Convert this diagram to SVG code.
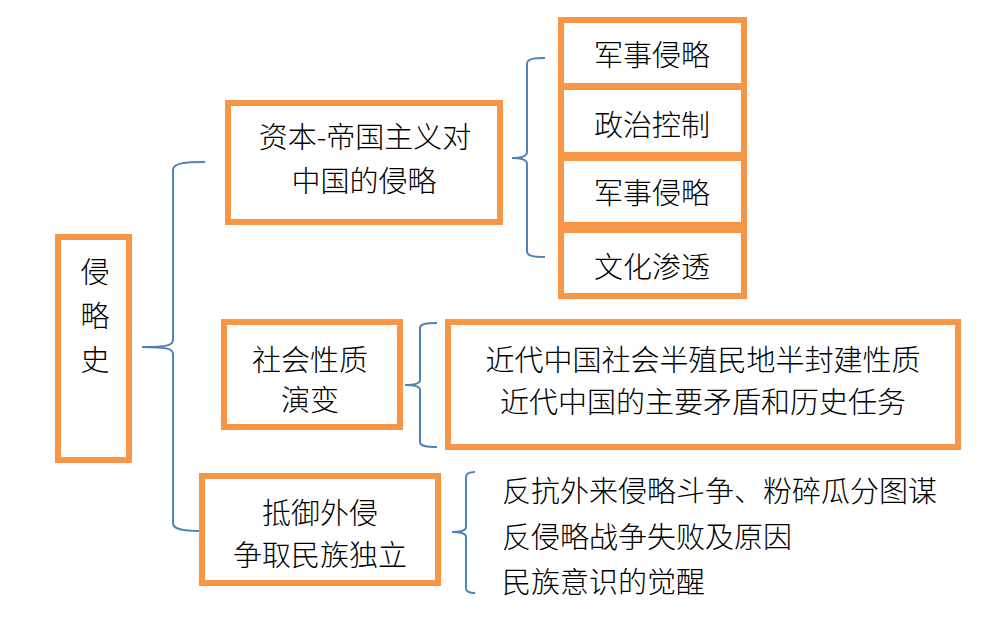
<svg xmlns="http://www.w3.org/2000/svg" width="990" height="633" viewBox="0 0 990 633">
<style>
.box{fill:#ffffff;stroke:#f79646;stroke-width:6}
.br{fill:none;stroke:#4f81bd;stroke-width:2}
text{font-family:"Noto Sans CJK SC","Liberation Sans",sans-serif;font-size:29px;font-weight:300;fill:#000}
.c{text-anchor:middle}
</style>
<rect width="990" height="633" fill="#ffffff"/>
<g id="connectors">
<path class="br" d="M205 162 C185 162 173 163 173 170 L173 340 C173 345 168 347 142 347 C168 347 173 349 173 354 L173 523 C173 530 185 531 199 531"/>
<path class="br" d="M545 58 C533 58 527 59 527 64 L527 152 C527 156 522 158 512 158 C522 158 527 160 527 164 L527 251 C527 256 533 257 545 257"/>
<path class="br" d="M437 323 C426 323 420 324 420 328 L420 380 C420 383 415 385 405 385 C415 385 420 387 420 390 L420 442 C420 446 426 447 437 447"/>
<path class="br" d="M475 472 C470 472 466 473 466 477 L466 527 C466 530 462 532 452 532 C462 532 466 534 466 537 L466 588 C466 592 470 593 475 593"/>
</g>
<g id="n-root">
<rect class="box" x="58" y="237" width="71" height="223"/>
<text class="c" x="95" y="283">侵</text>
<text class="c" x="95" y="327">略</text>
<text class="c" x="95" y="371">史</text>
</g>
<g id="n-capital">
<rect class="box" x="228" y="103" width="272" height="119"/>
<text class="c" x="365" y="148">资本-帝国主义对</text>
<text class="c" x="364" y="192">中国的侵略</text>
</g>
<g id="n-military1">
<rect class="box" x="561" y="20" width="183" height="66"/>
<text class="c" x="652" y="66">军事侵略</text>
</g>
<g id="n-political">
<rect class="box" x="561" y="87" width="183" height="68"/>
<text class="c" x="652" y="136">政治控制</text>
</g>
<g id="n-military2">
<rect class="box" x="561" y="158" width="183" height="67"/>
<text class="c" x="652" y="204">军事侵略</text>
</g>
<g id="n-culture">
<rect class="box" x="561" y="230" width="183" height="66"/>
<text class="c" x="652" y="278">文化渗透</text>
</g>
<g id="n-society">
<rect class="box" x="224" y="322" width="176" height="105"/>
<text class="c" x="310" y="371">社会性质</text>
<text class="c" x="310" y="411">演变</text>
</g>
<g id="n-nature">
<rect class="box" x="448" y="322" width="510" height="125"/>
<text class="c" x="703" y="371">近代中国社会半殖民地半封建性质</text>
<text class="c" x="703" y="413">近代中国的主要矛盾和历史任务</text>
</g>
<g id="n-resist">
<rect class="box" x="202" y="476" width="236" height="107"/>
<text class="c" x="320" y="524">抵御外侵</text>
<text class="c" x="320" y="566">争取民族独立</text>
</g>
<g id="n-resist-items">
<text x="502" y="502">反抗外来侵略斗争、粉碎瓜分图谋</text>
<text x="502" y="548">反侵略战争失败及原因</text>
<text x="502" y="593">民族意识的觉醒</text>
</g>
</svg>
